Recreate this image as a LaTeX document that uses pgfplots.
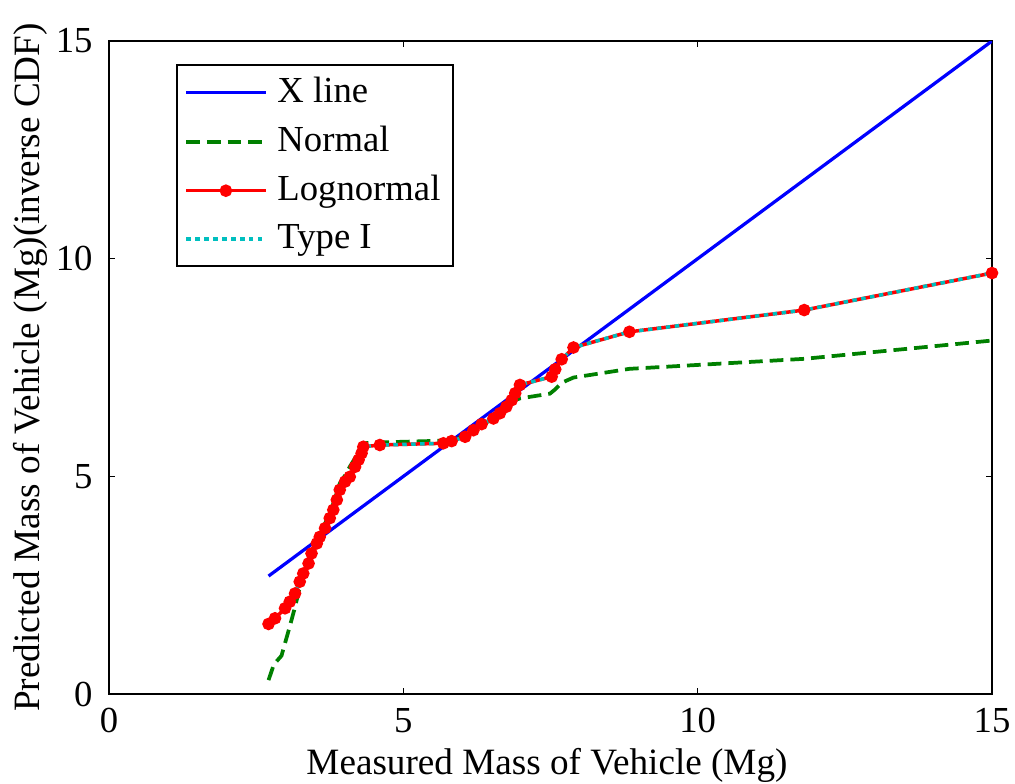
\documentclass[border=0pt]{standalone}
\usepackage{fontspec}
\setmainfont{Liberation Serif}
\usepackage{pgfplots}
\pgfplotsset{compat=1.18}
\definecolor{mblue}{rgb}{0,0,1}
\definecolor{mgreen}{rgb}{0,0.5,0}
\definecolor{mred}{rgb}{1,0,0}
\definecolor{mcyan}{rgb}{0,0.75,0.75}
\begin{document}
\fontsize{14.9}{17.5}\selectfont
\begin{tikzpicture}
\begin{axis}[
  name=ax,
  scale only axis,
  width=12.44cm, height=9.20cm,
  xmin=0, xmax=15, ymin=0, ymax=15,
  xtick={0,5,10,15}, ytick={0,5,10,15},
  tick align=inside,
  major tick length=0.09cm,
  axis line style={line width=0.6pt},
  every tick/.style={black, line width=0.6pt},
  /pgf/number format/assume math mode=true,
  tick label style={font=\fontsize{14.7}{17}\selectfont},
  xticklabel style={yshift=-0.02cm},
  yticklabel style={xshift=-0.05cm},
  xlabel={Measured Mass of Vehicle (Mg)},
  ylabel={Predicted Mass of Vehicle (Mg)(inverse CDF)},
  label style={font=\fontsize{14.9}{17.5}\selectfont},
  xlabel style={at={(axis description cs:0.496,-0.109)},anchor=center},
  ylabel style={at={(axis description cs:-0.0895,0.5)},anchor=center},
  legend cell align=left,
  legend style={at={(0.0759,0.9648)},anchor=north west, draw=black, line width=0.6pt,
     font=\fontsize{14.7}{17}\selectfont, row sep=3.2pt, column sep=2pt, inner sep=3pt},
  legend image code/.code={\draw[mark repeat=2,mark phase=2,#1] plot coordinates {(0cm,0cm) (0.56cm,0cm) (1.12cm,0cm)};},
]
\addplot[mblue, line width=1.3pt] coordinates {
(2.71,2.71)(3.07,3.07)(3.44,3.44)(3.81,3.81)(4.32,4.32)(5.68,5.68)(6.53,6.53)(7.52,7.52)(8.84,8.84)(11.81,11.81)(15,15)};
\addlegendentry{X line}
\addplot[mgreen, line width=1.5pt, dash pattern=on 5.5pt off 2.8pt] coordinates {
(2.71,0.32)(2.80,0.68)(2.93,0.88)(2.99,1.17)(3.07,1.55)(3.16,2.0)(3.24,2.45)(3.30,2.72)(3.39,3.00)(3.44,3.25)(3.53,3.50)(3.58,3.68)(3.67,3.92)(3.75,4.15)(3.81,4.38)(3.87,4.62)(3.92,4.84)(4.01,5.02)(4.09,5.22)(4.18,5.42)(4.24,5.58)(4.32,5.76)(4.60,5.78)(5.68,5.82)(5.82,5.86)(6.05,5.92)(6.19,6.04)(6.33,6.18)(6.53,6.32)(6.64,6.43)(6.75,6.58)(6.84,6.72)(6.90,6.75)(6.98,6.79)(7.49,6.90)(7.58,7.0)(7.69,7.15)(7.89,7.27)(8.84,7.47)(11.81,7.70)(15,8.12)};
\addlegendentry{Normal}
\addplot[mred, line width=1.4pt, mark=*, mark size=1.8pt, mark options={solid, fill=mred, draw=mred}] coordinates {
(2.71,1.61)(2.82,1.74)(2.99,1.97)(3.07,2.12)(3.16,2.31)(3.24,2.58)(3.30,2.77)(3.39,3.00)(3.44,3.23)(3.53,3.46)(3.58,3.61)(3.67,3.81)(3.75,4.04)(3.81,4.23)(3.87,4.46)(3.92,4.69)(4.01,4.88)(4.09,4.99)(4.18,5.22)(4.24,5.38)(4.29,5.53)(4.32,5.68)(4.60,5.72)(5.68,5.76)(5.82,5.81)(6.05,5.91)(6.19,6.06)(6.33,6.20)(6.53,6.33)(6.64,6.45)(6.75,6.60)(6.84,6.75)(6.90,6.91)(6.98,7.10)(7.52,7.29)(7.58,7.46)(7.69,7.69)(7.89,7.96)(8.84,8.32)(11.81,8.82)(15,9.67)};
\addlegendentry{Lognormal}
\addplot[mcyan, line width=1.4pt, dash pattern=on 1.8pt off 1.8pt] coordinates {
(2.71,1.61)(2.82,1.74)(2.99,1.97)(3.07,2.12)(3.16,2.31)(3.24,2.58)(3.30,2.77)(3.39,3.00)(3.44,3.23)(3.53,3.46)(3.58,3.61)(3.67,3.81)(3.75,4.04)(3.81,4.23)(3.87,4.46)(3.92,4.69)(4.01,4.88)(4.09,4.99)(4.18,5.22)(4.24,5.38)(4.29,5.53)(4.32,5.68)(4.60,5.72)(5.68,5.76)(5.82,5.81)(6.05,5.91)(6.19,6.06)(6.33,6.20)(6.53,6.33)(6.64,6.45)(6.75,6.60)(6.84,6.75)(6.90,6.91)(6.98,7.10)(7.52,7.29)(7.58,7.46)(7.69,7.69)(7.89,7.96)(8.84,8.32)(11.81,8.82)(15,9.67)};
\addlegendentry{Type I}
\end{axis}
\pgfresetboundingbox
\path[use as bounding box] ([xshift=-1.536cm,yshift=-1.254cm]ax.south west) rectangle ([xshift=0.324cm,yshift=0.578cm]ax.north east);
\end{tikzpicture}
\end{document}
